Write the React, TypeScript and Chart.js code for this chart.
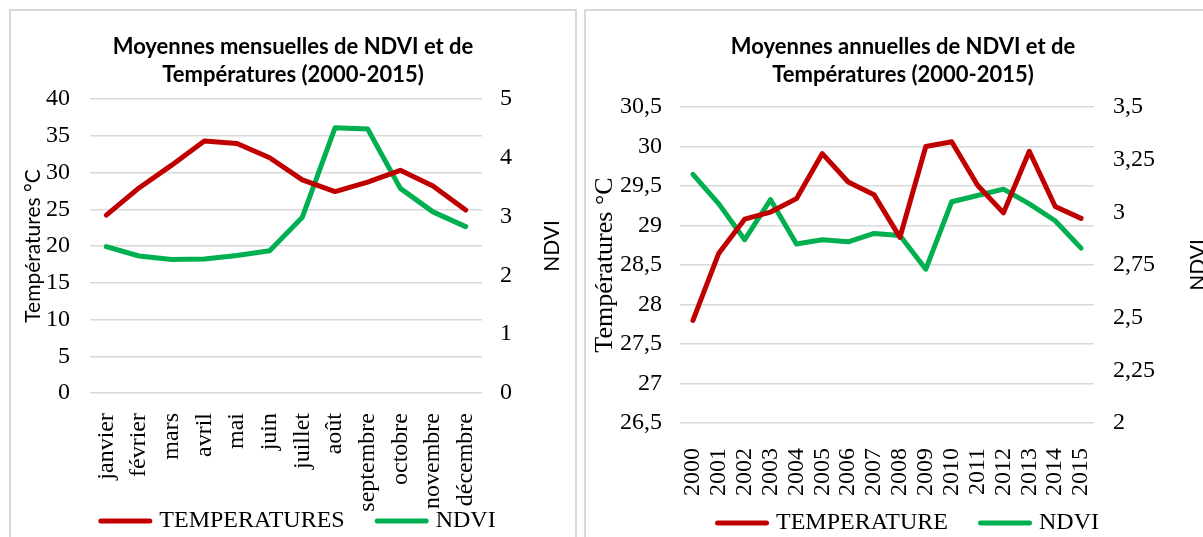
import React, { useEffect, useRef } from 'react';
import { Chart, registerables } from 'chart.js';

Chart.register(...registerables);

// Monthly means 2000-2015
const months = ['janvier', 'février', 'mars', 'avril', 'mai', 'juin', 'juillet', 'août', 'septembre', 'octobre', 'novembre', 'décembre'];
const monthlyTemperature = [24.2, 27.9, 31.0, 34.3, 33.95, 32.0, 29.0, 27.4, 28.7, 30.3, 28.15, 24.9];
const monthlyNdvi = [2.49, 2.33, 2.27, 2.28, 2.34, 2.42, 2.99, 4.51, 4.49, 3.48, 3.08, 2.83];

// Annual means 2000-2015
const years = ['2000', '2001', '2002', '2003', '2004', '2005', '2006', '2007', '2008', '2009', '2010', '2011', '2012', '2013', '2014', '2015'];
const annualTemperature = [27.8, 28.65, 29.08, 29.17, 29.34, 29.91, 29.55, 29.39, 28.85, 30.0, 30.06, 29.51, 29.16, 29.94, 29.24, 29.09];
const annualNdvi = [3.18, 3.04, 2.87, 3.06, 2.85, 2.87, 2.86, 2.9, 2.89, 2.73, 3.05, 3.08, 3.11, 3.04, 2.96, 2.83];

const TEMP_RED = '#C00000';
const NDVI_GREEN = '#00B050';
const GRID = '#D9D9D9';
const SERIF = '"Liberation Serif", "Times New Roman", serif';
const SANS = 'Lato, "Liberation Sans", sans-serif';

const fmt = (v: number | string) => String(Math.round(Number(v) * 100) / 100).replace('.', ',');

// Vertical axis titles, read bottom-to-top on both sides
const sideTitles = {
  id: 'sideTitles',
  afterDraw(chart: any, _args: any, opts: any) {
    const { ctx, chartArea, scales } = chart;
    const cy = (chartArea.top + chartArea.bottom) / 2;
    (opts.items || []).forEach((t: any) => {
      const s = scales[t.scale];
      const x = t.side === 'left' ? s.left + t.offset : s.right - t.offset;
      ctx.save();
      ctx.translate(x, cy);
      ctx.rotate(-Math.PI / 2);
      ctx.font = t.font;
      ctx.fillStyle = '#000';
      ctx.textAlign = 'center';
      ctx.textBaseline = 'middle';
      ctx.fillText(t.text, 0, 0);
      ctx.restore();
    });
  },
};

// Legend row below the axis: a thick line sample followed by the series name
const lineLegend = {
  id: 'lineLegend',
  afterDraw(chart: any, _args: any, opts: any) {
    const { ctx } = chart;
    const items = chart.data.datasets.map((ds: any) => ({ text: ds.label, color: ds.borderColor, width: ds.borderWidth }));
    ctx.save();
    ctx.font = opts.font;
    const widths = items.map((it: any) => opts.lineLength + opts.textGap + ctx.measureText(it.text).width);
    const total = widths.reduce((a: number, b: number) => a + b, 0) + opts.itemGap * (items.length - 1);
    let x = chart.width / 2 + opts.shift - total / 2;
    const y = chart.height - opts.bottom;
    items.forEach((it: any, i: number) => {
      const half = it.width / 2;
      ctx.strokeStyle = it.color;
      ctx.lineWidth = it.width;
      ctx.lineCap = 'round';
      ctx.beginPath();
      ctx.moveTo(x + half, y);
      ctx.lineTo(x + opts.lineLength - half, y);
      ctx.stroke();
      ctx.fillStyle = '#000';
      ctx.textAlign = 'left';
      ctx.textBaseline = 'middle';
      ctx.fillText(it.text, x + opts.lineLength + opts.textGap, y);
      x += widths[i] + opts.itemGap;
    });
    ctx.restore();
  },
};

interface PanelSpec {
  width: number;
  height: number;
  title: string[];
  titleGap: number;
  labels: string[];
  temp: number[];
  ndvi: number[];
  tempLabel: string;
  yMin: number;
  yMax: number;
  yStep: number;
  y1Min: number;
  y1Max: number;
  y1Step: number;
  leftWidth: number;
  rightWidth: number;
  leftPad: number;
  rightPad: number;
  xHeight: number;
  xPad: number;
  bottomPad: number;
  legendBottom: number;
  leftTitleFont: string;
  leftTitleOffset: number;
  rightTitleOffset: number;
}

function buildConfig(spec: PanelSpec): any {
  const tickFont = { family: SERIF, size: 24 };
  const line = (label: string, data: number[], color: string, axis: string) => ({
    label,
    data,
    yAxisID: axis,
    borderColor: color,
    backgroundColor: color,
    borderWidth: 5,
    borderCapStyle: 'round',
    borderJoinStyle: 'round',
    pointRadius: 0,
    tension: 0,
  });
  return {
    type: 'line',
    data: {
      labels: spec.labels,
      datasets: [
        line(spec.tempLabel, spec.temp, TEMP_RED, 'y'),
        line('NDVI', spec.ndvi, NDVI_GREEN, 'y1'),
      ],
    },
    options: {
      animation: false,
      responsive: false,
      layout: { padding: { left: 0, right: 0, top: 0, bottom: spec.bottomPad } },
      plugins: {
        title: {
          display: true,
          text: spec.title,
          color: '#000',
          font: { family: SANS, size: 22, weight: 'bold', lineHeight: '28px' },
          padding: { top: 23, bottom: spec.titleGap },
        },
        legend: { display: false },
        tooltip: { enabled: false },
        lineLegend: {
          font: `24px ${SERIF}`,
          lineLength: 54,
          textGap: 7,
          itemGap: 30,
          shift: 4,
          bottom: spec.legendBottom,
        },
        sideTitles: {
          items: [
            { scale: 'y', side: 'left', offset: spec.leftTitleOffset, text: 'Températures °C', font: spec.leftTitleFont },
            { scale: 'y1', side: 'right', offset: spec.rightTitleOffset, text: 'NDVI', font: `21px ${SANS}` },
          ],
        },
      },
      scales: {
        x: {
          offset: true,
          grid: { display: false },
          border: { display: false },
          ticks: { minRotation: 90, maxRotation: 90, autoSkip: false, padding: spec.xPad, color: '#000', font: tickFont },
          afterFit: (s: any) => { s.height = spec.xHeight; },
        },
        y: {
          position: 'left',
          min: spec.yMin,
          max: spec.yMax,
          grid: { color: GRID, lineWidth: 1.5, drawTicks: false },
          border: { display: false },
          ticks: { stepSize: spec.yStep, padding: spec.leftPad, color: '#000', font: tickFont, callback: fmt },
          afterFit: (s: any) => { s.width = spec.leftWidth; },
        },
        y1: {
          position: 'right',
          min: spec.y1Min,
          max: spec.y1Max,
          grid: { drawOnChartArea: false, drawTicks: false },
          border: { display: false },
          ticks: { stepSize: spec.y1Step, padding: spec.rightPad, color: '#000', font: tickFont, callback: fmt },
          afterFit: (s: any) => { s.width = spec.rightWidth; },
        },
      },
    },
    plugins: [sideTitles, lineLegend],
  };
}

const monthlySpec: PanelSpec = {
  width: 566,
  height: 533,
  title: ['Moyennes mensuelles de NDVI et de', 'Températures (2000-2015)'],
  titleGap: 10,
  labels: months,
  temp: monthlyTemperature,
  ndvi: monthlyNdvi,
  tempLabel: 'TEMPERATURES',
  yMin: 0,
  yMax: 40,
  yStep: 5,
  y1Min: 0,
  y1Max: 5,
  y1Step: 0.5,
  leftWidth: 80,
  rightWidth: 94,
  leftPad: 20,
  rightPad: 18,
  xHeight: 125,
  xPad: 12,
  bottomPad: 25,
  legendBottom: 22,
  leftTitleFont: `21px ${SANS}`,
  leftTitleOffset: 23,
  rightTitleOffset: 24,
};

const annualSpec: PanelSpec = {
  width: 636,
  height: 535,
  title: ['Moyennes annuelles de NDVI et de', 'Températures (2000-2015)'],
  titleGap: 18,
  labels: years,
  temp: annualTemperature,
  ndvi: annualNdvi,
  tempLabel: 'TEMPERATURE',
  yMin: 26.5,
  yMax: 30.5,
  yStep: 0.5,
  y1Min: 2,
  y1Max: 3.5,
  y1Step: 0.25,
  leftWidth: 95,
  rightWidth: 127,
  leftPad: 18,
  rightPad: 19,
  xHeight: 80,
  xPad: 17,
  bottomPad: 42,
  legendBottom: 22,
  leftTitleFont: `26px ${SERIF}`,
  leftTitleOffset: 20,
  rightTitleOffset: 23,
};

function Panel({ spec, left }: { spec: PanelSpec; left: number }) {
  const ref = useRef<HTMLCanvasElement | null>(null);
  useEffect(() => {
    if (!ref.current) return;
    const chart = new Chart(ref.current, buildConfig(spec));
    return () => chart.destroy();
  }, [spec]);
  return (
    <>
      <canvas
        ref={ref}
        width={spec.width}
        height={spec.height}
        style={{ position: 'absolute', left, top: 10, width: spec.width, height: spec.height }}
      />
      <div
        style={{
          position: 'absolute',
          left: left - 1,
          top: 9,
          width: spec.width + 2,
          height: 560,
          border: '2px solid #D9D9D9',
          boxSizing: 'border-box',
          pointerEvents: 'none',
        }}
      />
    </>
  );
}

export default function App() {
  return (
    <div
      style={{
        position: 'fixed',
        left: 0,
        top: 0,
        width: 1203,
        height: 537,
        overflow: 'hidden',
        background: '#fff',
      }}
    >
      <Panel spec={monthlySpec} left={10} />
      <Panel spec={annualSpec} left={585} />
    </div>
  );
}
